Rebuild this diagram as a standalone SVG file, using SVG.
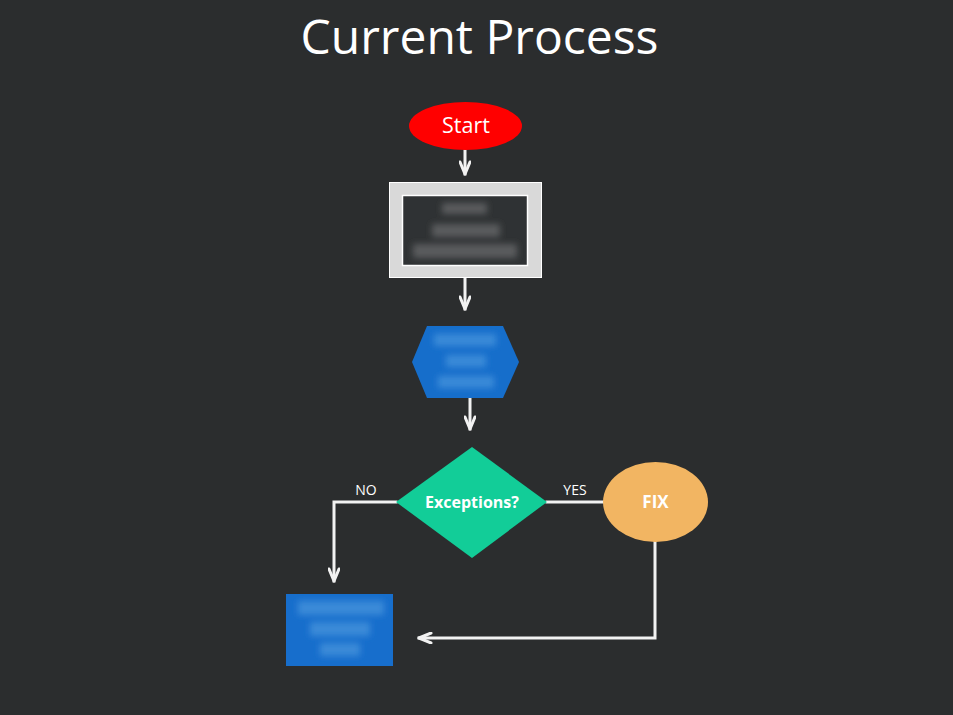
<svg xmlns="http://www.w3.org/2000/svg" width="953" height="715" viewBox="0 0 953 715">
<defs>
<style>
.conn{fill:none;stroke:#f2f2f2;stroke-width:3;stroke-linecap:square}
.lbl{font-family:"Open Sans","Noto Sans","Liberation Sans",sans-serif;fill:#ffffff}
.bold{font-weight:bold}
</style>
<marker id="arr" viewBox="0 0 16 12" refX="14" refY="6" markerWidth="16" markerHeight="12" markerUnits="userSpaceOnUse" orient="auto">
<path d="M2,1 L14,6 L2,11" fill="none" stroke="#f2f2f2" stroke-width="3" stroke-linecap="round" stroke-linejoin="round"/>
</marker>
<filter id="blur" x="-20%" y="-40%" width="140%" height="180%"><feGaussianBlur stdDeviation="3"/></filter>
</defs>
<rect width="953" height="715" fill="#2b2d2e"/>
<text class="lbl" x="479.5" y="54" font-size="48" text-anchor="middle">Current Process</text>

<g id="connectors">
<path class="conn" d="M465,151 V174" marker-end="url(#arr)"/>
<path class="conn" d="M465,279 V309" marker-end="url(#arr)"/>
<path class="conn" d="M470,399 V429" marker-end="url(#arr)"/>
<path class="conn" d="M396,502 H334 V581" marker-end="url(#arr)"/>
<path class="conn" d="M547,502 H603"/>
<path class="conn" d="M655,542 V638 H419" marker-end="url(#arr)"/>
<text class="lbl" x="366" y="495" font-size="14" text-anchor="middle">NO</text>
<text class="lbl" x="575" y="495" font-size="14" text-anchor="middle">YES</text>
</g>

<g id="start">
<ellipse cx="465.5" cy="126" rx="56.5" ry="24" fill="#ff0000"/>
<text class="lbl" x="466" y="133" font-size="21.5" text-anchor="middle">Start</text>
</g>

<g id="step1">
<rect x="389.5" y="182.5" width="152" height="95" fill="#d9d9d9" stroke="#ffffff" stroke-width="1"/>
<rect x="402.5" y="195.5" width="125" height="70" fill="#2f3234" stroke="#ffffff" stroke-width="1.5"/>
<g filter="url(#blur)" fill="#5a5c5d">
<rect x="442" y="203" width="45" height="11"/>
<rect x="432" y="224" width="68" height="13"/>
<rect x="413" y="244" width="104" height="14"/>
</g>
</g>

<g id="step2">
<polygon points="427,326 503,326 519,362 503,398 427,398 412,362" fill="#166ecb"/>
<g filter="url(#blur)" fill="#3a8ad8">
<rect x="434" y="334" width="62" height="12"/>
<rect x="446" y="355" width="40" height="12"/>
<rect x="438" y="376" width="56" height="12"/>
</g>
</g>

<g id="decision">
<polygon points="472,447 547,502 472,558 396,502" fill="#12cd98"/>
<text class="lbl bold" x="472" y="507.5" font-size="16" text-anchor="middle">Exceptions?</text>
</g>

<g id="fix">
<ellipse cx="655.5" cy="502" rx="52.5" ry="40" fill="#f2b562"/>
<text class="lbl bold" x="655.5" y="508" font-size="17" text-anchor="middle">FIX</text>
</g>

<g id="step3">
<rect x="286" y="594" width="107" height="72" fill="#176ecc"/>
<g filter="url(#blur)" fill="#3a8ad8">
<rect x="298" y="601" width="86" height="14"/>
<rect x="310" y="622" width="60" height="14"/>
<rect x="320" y="643" width="40" height="13"/>
</g>
</g>
</svg>
